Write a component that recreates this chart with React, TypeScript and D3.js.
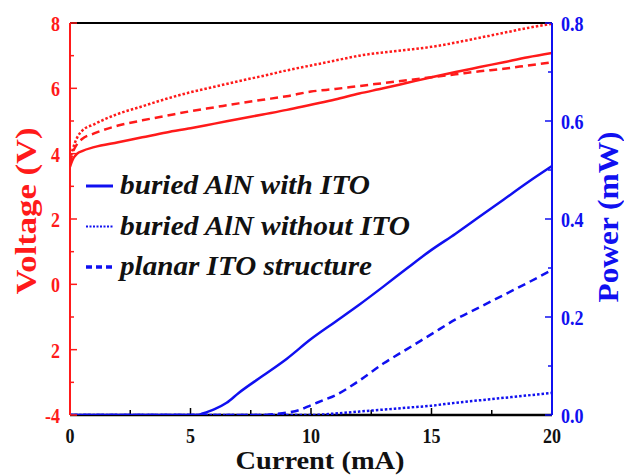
import * as d3 from "d3";
import { useMemo } from "react";

// current (mA) sample points
const currentV = [0, 0.1, 0.3, 0.5, 1, 2, 3, 4, 5, 6, 7, 8, 9, 10, 11, 12, 13, 14, 15, 16, 17, 18, 19, 20];
// voltage curves (V)
const vWithITO = [3.6, 3.8, 4.0, 4.08, 4.2, 4.35, 4.5, 4.65, 4.78, 4.92, 5.06, 5.2, 5.34, 5.5, 5.66, 5.84, 6.0, 6.17, 6.34, 6.5, 6.65, 6.8, 6.95, 7.08];
const vWithoutITO = [3.8, 4.1, 4.5, 4.7, 4.9, 5.22, 5.45, 5.68, 5.88, 6.05, 6.22, 6.38, 6.55, 6.7, 6.85, 7.0, 7.1, 7.18, 7.27, 7.4, 7.55, 7.7, 7.85, 7.98];
const vPlanar = [3.7, 4.0, 4.3, 4.45, 4.62, 4.86, 5.02, 5.16, 5.3, 5.42, 5.54, 5.65, 5.76, 5.9, 5.98, 6.07, 6.16, 6.25, 6.34, 6.43, 6.52, 6.6, 6.7, 6.8];

// power curves (mW)
const currentP1 = [0, 5, 5.3, 5.5, 6, 6.5, 7, 8, 9, 10, 11, 12, 13, 14, 15, 16, 17, 18, 19, 20];
const pWithITO = [0, 0, 0, 0.003, 0.012, 0.025, 0.045, 0.08, 0.115, 0.155, 0.19, 0.225, 0.262, 0.3, 0.337, 0.37, 0.405, 0.44, 0.475, 0.508];
const currentP2 = [0, 5, 8, 8.5, 9, 9.5, 10, 10.5, 11, 12, 13, 14, 15, 16, 17, 18, 19, 20];
const pPlanar = [0, 0, 0, 0.002, 0.005, 0.01, 0.02, 0.03, 0.04, 0.07, 0.105, 0.135, 0.165, 0.195, 0.22, 0.245, 0.27, 0.296];
const currentP3 = [0, 5, 10, 11, 12, 13, 14, 15, 16, 17, 18, 19, 20];
const pWithoutITO = [0, 0, 0, 0.003, 0.007, 0.011, 0.015, 0.019, 0.025, 0.03, 0.035, 0.04, 0.045];

const xTicks = [0, 5, 10, 15, 20];
const vTicks = [8, 6, 4, 2, 0, -2, -4];
const vTickLabels = ["8", "6", "4", "2", "0", "2", "-4"];
const pTicks = [0, 0.2, 0.4, 0.6, 0.8];

const legendItems = [
  { label: "buried AlN with ITO", dash: "none", width: 3, len: 250 },
  { label: "buried AlN without ITO", dash: "2,1.5", width: 2, len: 290 },
  { label: "planar ITO structure", dash: "6,4", width: 3.5, len: 252 },
];

const RED = "#ff1a1a";
const BLUE = "#1010f0";

const App = () => {
  const dims = { width: 624, height: 475, left: 70, right: 552, top: 23, bottom: 415 };

  const xScale = useMemo(() => d3.scaleLinear().domain([0, 20]).range([dims.left, dims.right]), []);
  const vScale = useMemo(() => d3.scaleLinear().domain([-4, 8]).range([dims.bottom, dims.top]), []);
  const pScale = useMemo(() => d3.scaleLinear().domain([0, 0.8]).range([dims.bottom, dims.top]), []);

  const makeLine = (xs, ys, yScale) => {
    const pts = xs.map((x, i) => [x, ys[i]]);
    return d3.line()
      .x(d => xScale(d[0]))
      .y(d => yScale(d[1]))
      .curve(d3.curveMonotoneX)(pts);
  };

  const voltLines = [
    { d: makeLine(currentV, vWithITO, vScale), dash: "none" },
    { d: makeLine(currentV, vWithoutITO, vScale), dash: "2.5,2" },
    { d: makeLine(currentV, vPlanar, vScale), dash: "8,5" },
  ];
  const powerLines = [
    { d: makeLine(currentP1, pWithITO, pScale), dash: "none" },
    { d: makeLine(currentP3, pWithoutITO, pScale), dash: "2.5,2" },
    { d: makeLine(currentP2, pPlanar, pScale), dash: "8,5" },
  ];

  const xMinor = d3.range(0, 20.01, 2.5);
  const vMinor = d3.range(-4, 8.01, 1);
  const pMinor = d3.range(0, 0.81, 0.1);

  const serif = "'Liberation Serif', 'Times New Roman', serif";
  const tickFont = { fontFamily: serif, fontWeight: "bold", fontSize: 22 };

  return (
    <svg width={dims.width} height={dims.height} style={{ position: "absolute", left: 0, top: 0, background: "#fff" }}>
      <defs>
        <clipPath id="plot">
          <rect x={dims.left} y={dims.top} width={dims.right - dims.left} height={dims.bottom - dims.top} />
        </clipPath>
      </defs>

      {/* frame */}
      <line x1={dims.left} x2={dims.right} y1={dims.top} y2={dims.top} stroke="#000" strokeWidth={2} />
      <line x1={dims.left} x2={dims.right} y1={dims.bottom} y2={dims.bottom} stroke="#000" strokeWidth={2.5} />

      {/* x ticks */}
      {xMinor.map(t => (
        <line key={"xm" + t} x1={xScale(t)} x2={xScale(t)} y1={dims.bottom} y2={dims.bottom - (t % 5 === 0 ? 7 : 5)} stroke="#000" strokeWidth={1.5} />
      ))}
      {xTicks.map(t => (
        <text key={"xl" + t} transform={`translate(${xScale(t)}, 443) scale(0.82, 1)`} textAnchor="middle" {...tickFont} fill="#111">{t}</text>
      ))}

      <g clipPath="url(#plot)">
        {voltLines.map((l, i) => (
          <path key={"v" + i} d={l.d} fill="none" stroke={RED} strokeWidth={2.5} strokeDasharray={l.dash} />
        ))}
        {powerLines.map((l, i) => (
          <path key={"p" + i} d={l.d} fill="none" stroke={BLUE} strokeWidth={2.5} strokeDasharray={l.dash} />
        ))}
      </g>

      {/* left axis */}
      <line x1={dims.left} x2={dims.left} y1={dims.top} y2={dims.bottom} stroke={RED} strokeWidth={2} />
      {vMinor.map(t => (
        <line key={"vm" + t} x1={dims.left} x2={dims.left + (t % 2 === 0 ? 7 : 4)} y1={vScale(t)} y2={vScale(t)} stroke={RED} strokeWidth={1.5} />
      ))}
      {vTicks.map((t, i) => (
        <text key={"vl" + t} transform={`translate(60, ${vScale(t) + 8}) scale(0.82, 1)`} textAnchor="end" {...tickFont} fill={RED}>{vTickLabels[i]}</text>
      ))}
      <text transform="translate(36, 211) rotate(-90)" textAnchor="middle" fontFamily={serif} fontWeight="bold" fontSize={30}
        textLength={167} lengthAdjust="spacingAndGlyphs" fill={RED}>Voltage (V)</text>

      {/* right axis */}
      <line x1={dims.right} x2={dims.right} y1={dims.top} y2={dims.bottom} stroke={BLUE} strokeWidth={2} />
      {pMinor.map((t, i) => (
        <line key={"pm" + i} x1={dims.right} x2={dims.right - (i % 2 === 0 ? 7 : 4)} y1={pScale(t)} y2={pScale(t)} stroke={BLUE} strokeWidth={1.5} />
      ))}
      {pTicks.map(t => (
        <text key={"pl" + t} transform={`translate(561, ${pScale(t) + 8}) scale(0.82, 1)`} textAnchor="start" {...tickFont} fill={BLUE}>{t.toFixed(1)}</text>
      ))}
      <text transform="translate(618, 217) rotate(-90)" textAnchor="middle" fontFamily={serif} fontWeight="bold" fontSize={30}
        textLength={171} lengthAdjust="spacingAndGlyphs" fill={BLUE}>Power (mW)</text>

      {/* x title */}
      <text x={320} y={469} textAnchor="middle" fontFamily={serif} fontWeight="bold" fontSize={25}
        textLength={169} lengthAdjust="spacingAndGlyphs" fill="#111">Current (mA)</text>

      {/* legend */}
      {legendItems.map((it, i) => {
        const y = 186 + i * 40.5;
        return (
          <g key={"lg" + i}>
            <line x1={86} x2={113} y1={y} y2={y} stroke={BLUE} strokeWidth={it.width} strokeDasharray={it.dash} />
            <text x={120} y={y + 8} fontFamily={serif} fontWeight="bold" fontStyle="italic" fontSize={28}
              textLength={it.len} lengthAdjust="spacingAndGlyphs" fill="#111">{it.label}</text>
          </g>
        );
      })}
    </svg>
  );
};

export default App;
